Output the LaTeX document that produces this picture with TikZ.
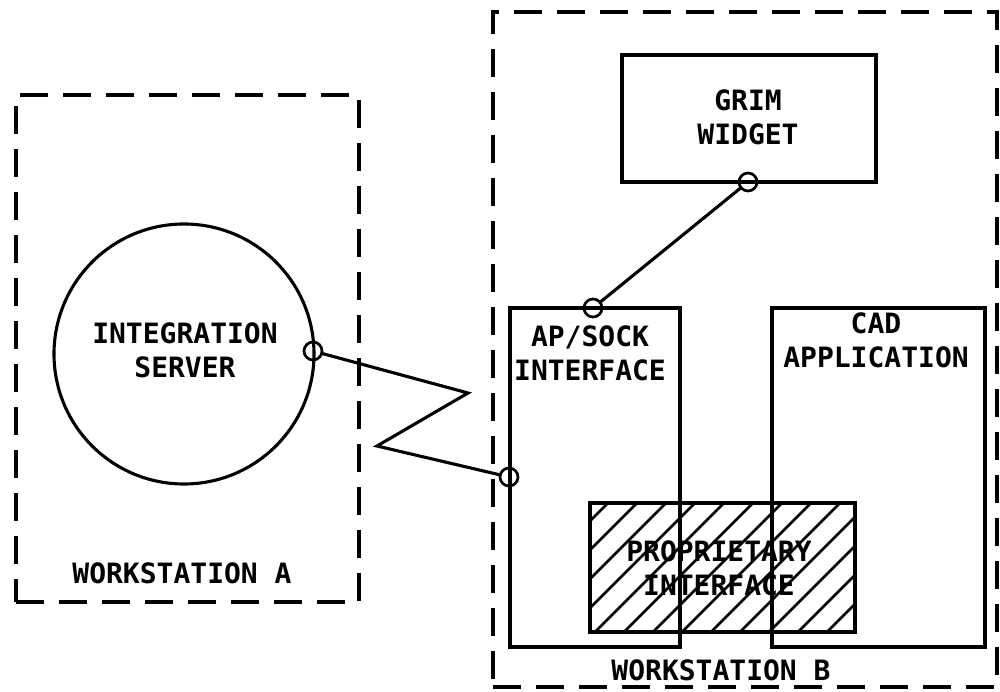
\documentclass[tikz,border=0pt]{standalone}
\usepackage{fontspec}
\newfontfamily\plotfont{DejaVu Sans Mono}
\begin{document}
\begin{tikzpicture}[x=1pt,y=-1pt,
  every node/.style={inner sep=0pt, outer sep=0pt},
  ln/.style={line width=3.1pt, line join=miter},
  box/.style={draw, line width=3.1pt, rectangle},
  wsbox/.style={draw, line width=3.1pt, rectangle, dash pattern=on 28pt off 15pt},
  port/.style={draw, line width=2.7pt, circle, minimum size=18pt},
  txt/.style={align=center, font=\plotfont\bfseries\fontsize{28}{34}\selectfont}
]
\useasboundingbox (0,0) rectangle (1000,692);

% workstations
\node[wsbox, minimum width=343pt, minimum height=507pt] (wsA) at (187.5,348.5) {};
\node[wsbox, minimum width=504pt, minimum height=675pt] (wsB) at (745,349.5) {};

% integration server
\node[draw, line width=3.1pt, circle, minimum size=260pt] (srv) at (184,354) {};
\node[txt] (srvt) at (185,350) {INTEGRATION\\SERVER};

% boxes
\node[box, minimum width=254pt, minimum height=127pt] (grim) at (749,118.5) {};
\node[txt] (grimt) at (748,117.5) {GRIM\\WIDGET};
\node[box, minimum width=170pt, minimum height=339pt] (aps) at (595,477.5) {};
\node[txt] (apst) at (590,353.5) {AP/SOCK\\INTERFACE};
\node[box, minimum width=213pt, minimum height=339pt] (cad) at (878.5,477.5) {};
\node[txt] (cadt) at (876,340) {CAD\\APPLICATION};
\node[box, minimum width=265pt, minimum height=129pt] (prop) at (722.5,567.5) {};
\begin{scope}
  \clip (prop.south west) rectangle (prop.north east);
  \foreach \a in {450,479,...,870} \draw[line width=2.7pt] ({\a},632) -- ({\a+129},503);
\end{scope}
\node[txt] (propt) at (719,568) {PROPRIETARY\\INTERFACE};

% labels
\node[txt] (wsAt) at (182,573) {WORKSTATION A};
\node[txt] (wsBt) at (721,670) {WORKSTATION B};

% ports
\node[port] (pS) at (313,351) {};
\node[port] (pA1) at (509,477) {};
\node[port] (pA2) at (593,308) {};
\node[port] (pG) at (748,182) {};

% connectors
\coordinate (z1) at (468,393);
\coordinate (z2) at (377,446);
\draw[ln] (pS) -- (z1) -- (z2) -- (pA1);
\draw[ln] (pG) -- (pA2);
\end{tikzpicture}
\end{document}
